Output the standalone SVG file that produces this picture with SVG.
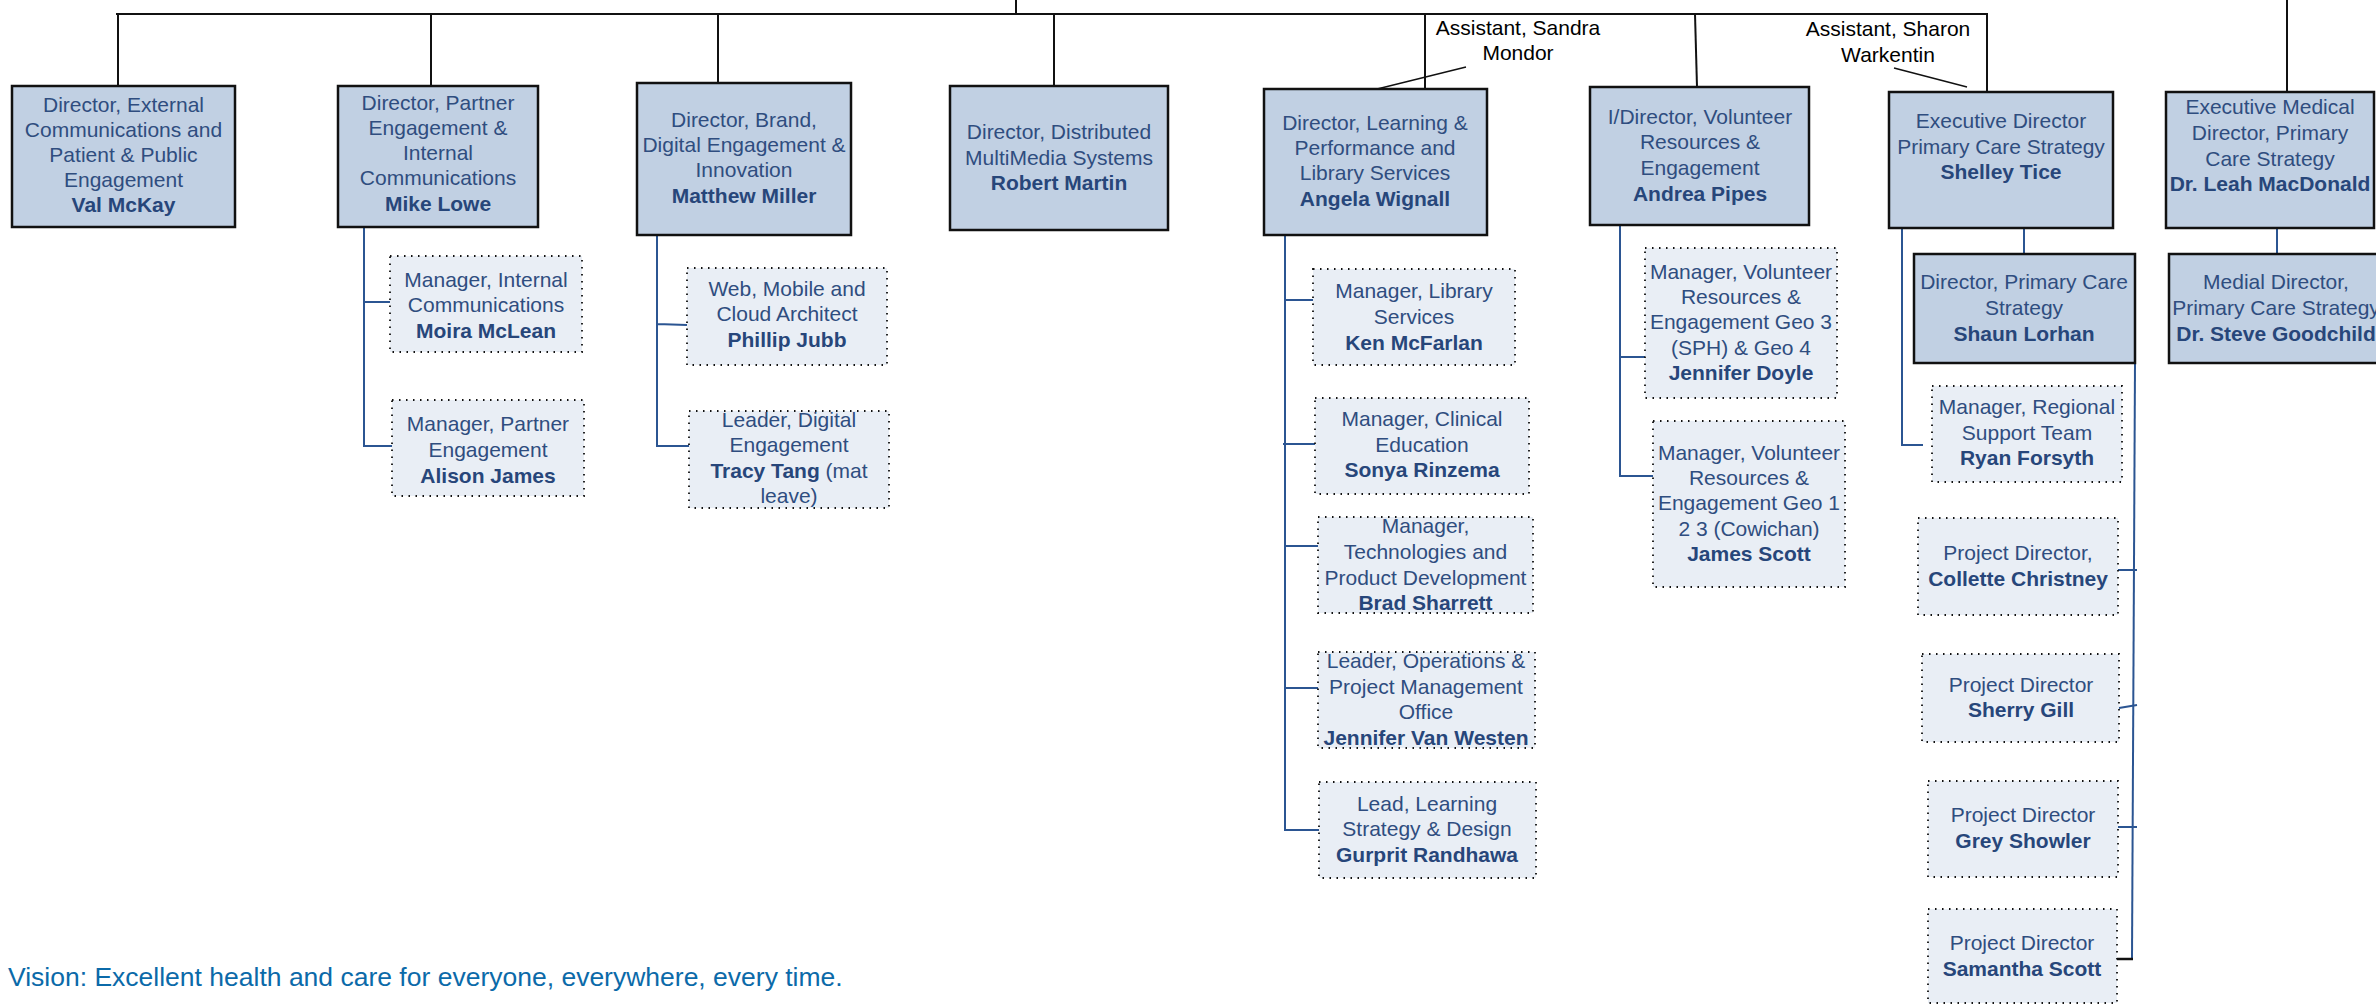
<svg xmlns="http://www.w3.org/2000/svg" width="2376" height="1005" viewBox="0 0 2376 1005">
<style>
.bg{fill:#ffffff}
.box{fill:#c1d0e3;stroke:#111;stroke-width:2.5}
.sub{fill:#e9eef5;stroke:#111;stroke-width:1.8;stroke-dasharray:1.5 5.5}
.t{font-family:"Liberation Sans",Arial,sans-serif;font-size:21px;fill:#2f4d7f;text-anchor:middle}
.b{font-weight:bold;fill:#27467a}
.a{font-family:"Liberation Sans",Arial,sans-serif;font-size:21px;fill:#000;text-anchor:middle}
.k{fill:none;stroke:#111;stroke-width:2}
.kt{fill:none;stroke:#111;stroke-width:1.4}
.c{fill:none;stroke:#2b5592;stroke-width:2}
.v{font-family:"Liberation Sans",Arial,sans-serif;font-size:26.5px;fill:#0b6aa9}
</style>
<rect class="bg" x="0" y="0" width="2376" height="1005"/>
<g id="connectors">
<path class="k" d="M116,14 H1987 V92"/>
<path class="k" d="M1016,0 V14"/>
<path class="k" d="M118,14 V86"/>
<path class="k" d="M431,14 V86"/>
<path class="k" d="M718,14 V83"/>
<path class="k" d="M1054,14 V86"/>
<path class="k" d="M1425,14 V89"/>
<path class="k" d="M1695,14 L1697,87"/>
<path class="k" d="M2287,0 V92"/>
<path class="kt" d="M1365,92 L1466,67"/>
<path class="kt" d="M1894,68 L1967,87"/>
<path class="c" d="M364,227 V446 H392 M364,302 H390"/>
<path class="c" d="M657,235 V446 H689 M657,324 L687,325"/>
<path class="c" d="M1285,235 V830 H1319 M1285,300 H1313 M1283,444 H1315 M1285,546 H1318 M1285,688 H1318"/>
<path class="c" d="M1620,225 V476 H1653 M1620,357 H1645"/>
<path class="c" d="M2024,228 V254"/>
<path class="c" d="M1902,228 V445 H1923"/>
<path class="c" d="M2135,363 L2132,959"/>
<path class="c" d="M2118,570 H2137 M2119,708 L2137,705 M2118,827 H2137"/>
<path class="k" d="M2113,959 H2133" style="stroke-width:2.5"/>
<path class="c" d="M2277,228 V254"/>
</g>
<g id="n-val"><rect class="box" x="12" y="86" width="223" height="141"/>
<text class="t"><tspan x="123.5" y="112">Director, External</tspan><tspan x="123.5" y="137">Communications and</tspan><tspan x="123.5" y="162">Patient &amp; Public</tspan><tspan x="123.5" y="187">Engagement</tspan><tspan class="b" x="123.5" y="212">Val McKay</tspan></text></g>
<g id="n-mike"><rect class="box" x="338" y="86" width="200" height="141"/>
<text class="t"><tspan x="438" y="110">Director, Partner</tspan><tspan x="438" y="135">Engagement &amp;</tspan><tspan x="438" y="160">Internal</tspan><tspan x="438" y="185">Communications</tspan><tspan class="b" x="438" y="211">Mike Lowe</tspan></text></g>
<g id="n-matthew"><rect class="box" x="637" y="83" width="214" height="152"/>
<text class="t"><tspan x="744" y="127">Director, Brand,</tspan><tspan x="744" y="152">Digital Engagement &amp;</tspan><tspan x="744" y="177">Innovation</tspan><tspan class="b" x="744" y="203">Matthew Miller</tspan></text></g>
<g id="n-robert"><rect class="box" x="950" y="86" width="218" height="144"/>
<text class="t"><tspan x="1059" y="139">Director, Distributed</tspan><tspan x="1059" y="165">MultiMedia Systems</tspan><tspan class="b" x="1059" y="190">Robert Martin</tspan></text></g>
<g id="n-angela"><rect class="box" x="1264" y="89" width="223" height="146"/>
<text class="t"><tspan x="1375" y="130">Director, Learning &amp;</tspan><tspan x="1375" y="155">Performance and</tspan><tspan x="1375" y="180">Library Services</tspan><tspan class="b" x="1375" y="206">Angela Wignall</tspan></text></g>
<g id="n-andrea"><rect class="box" x="1590" y="87" width="219" height="138"/>
<text class="t"><tspan x="1700" y="124">I/Director, Volunteer</tspan><tspan x="1700" y="149">Resources &amp;</tspan><tspan x="1700" y="175">Engagement</tspan><tspan class="b" x="1700" y="201">Andrea Pipes</tspan></text></g>
<g id="n-shelley"><rect class="box" x="1889" y="92" width="224" height="136"/>
<text class="t"><tspan x="2001" y="128">Executive Director</tspan><tspan x="2001" y="154">Primary Care Strategy</tspan><tspan class="b" x="2001" y="179">Shelley Tice</tspan></text></g>
<g id="n-leah"><rect class="box" x="2166" y="92" width="208" height="136"/>
<text class="t"><tspan x="2270" y="114">Executive Medical</tspan><tspan x="2270" y="140">Director, Primary</tspan><tspan x="2270" y="166">Care Strategy</tspan><tspan class="b" x="2270" y="191">Dr. Leah MacDonald</tspan></text></g>
<g id="n-shaun"><rect class="box" x="1914" y="254" width="221" height="109"/>
<text class="t"><tspan x="2024" y="289">Director, Primary Care</tspan><tspan x="2024" y="315">Strategy</tspan><tspan class="b" x="2024" y="341">Shaun Lorhan</tspan></text></g>
<g id="n-steve"><rect class="box" x="2169" y="254" width="214" height="109"/>
<text class="t"><tspan x="2276" y="289">Medial Director,</tspan><tspan x="2276" y="315">Primary Care Strategy</tspan><tspan class="b" x="2276" y="341">Dr. Steve Goodchild</tspan></text></g>
<g id="n-moira"><rect class="sub" x="390" y="256" width="192" height="96"/>
<text class="t"><tspan x="486" y="287">Manager, Internal</tspan><tspan x="486" y="312">Communications</tspan><tspan class="b" x="486" y="338">Moira McLean</tspan></text></g>
<g id="n-alison"><rect class="sub" x="392" y="400" width="192" height="96"/>
<text class="t"><tspan x="488" y="431">Manager, Partner</tspan><tspan x="488" y="457">Engagement</tspan><tspan class="b" x="488" y="483">Alison James</tspan></text></g>
<g id="n-phillip"><rect class="sub" x="687" y="268" width="200" height="97"/>
<text class="t"><tspan x="787" y="296">Web, Mobile and</tspan><tspan x="787" y="321">Cloud Architect</tspan><tspan class="b" x="787" y="347">Phillip Jubb</tspan></text></g>
<g id="n-tracy"><rect class="sub" x="689" y="411" width="200" height="97"/>
<text class="t"><tspan x="789" y="427">Leader, Digital</tspan><tspan x="789" y="452">Engagement</tspan><tspan x="789" y="478"><tspan class="b">Tracy Tang</tspan> (mat</tspan><tspan x="789" y="503">leave)</tspan></text></g>
<g id="n-ken"><rect class="sub" x="1313" y="269" width="202" height="96"/>
<text class="t"><tspan x="1414" y="298">Manager, Library</tspan><tspan x="1414" y="324">Services</tspan><tspan class="b" x="1414" y="350">Ken McFarlan</tspan></text></g>
<g id="n-sonya"><rect class="sub" x="1315" y="398" width="214" height="96"/>
<text class="t"><tspan x="1422" y="426">Manager, Clinical</tspan><tspan x="1422" y="452">Education</tspan><tspan class="b" x="1422" y="477">Sonya Rinzema</tspan></text></g>
<g id="n-brad"><rect class="sub" x="1318" y="517" width="215" height="96"/>
<text class="t"><tspan x="1425.5" y="533">Manager,</tspan><tspan x="1425.5" y="559">Technologies and</tspan><tspan x="1425.5" y="585">Product Development</tspan><tspan class="b" x="1425.5" y="610">Brad Sharrett</tspan></text></g>
<g id="n-jvw"><rect class="sub" x="1318" y="652" width="217" height="96"/>
<text class="t"><tspan x="1426" y="668">Leader, Operations &amp;</tspan><tspan x="1426" y="694">Project Management</tspan><tspan x="1426" y="719">Office</tspan><tspan class="b" x="1426" y="745">Jennifer Van Westen</tspan></text></g>
<g id="n-gurprit"><rect class="sub" x="1319" y="782" width="217" height="96"/>
<text class="t"><tspan x="1427" y="811">Lead, Learning</tspan><tspan x="1427" y="836">Strategy &amp; Design</tspan><tspan class="b" x="1427" y="862">Gurprit Randhawa</tspan></text></g>
<g id="n-jdoyle"><rect class="sub" x="1645" y="248" width="192" height="150"/>
<text class="t"><tspan x="1741" y="279">Manager, Volunteer</tspan><tspan x="1741" y="304">Resources &amp;</tspan><tspan x="1741" y="329">Engagement Geo 3</tspan><tspan x="1741" y="355">(SPH) &amp; Geo 4</tspan><tspan class="b" x="1741" y="380">Jennifer Doyle</tspan></text></g>
<g id="n-jscott"><rect class="sub" x="1653" y="421" width="192" height="166"/>
<text class="t"><tspan x="1749" y="460">Manager, Volunteer</tspan><tspan x="1749" y="485">Resources &amp;</tspan><tspan x="1749" y="510">Engagement Geo 1</tspan><tspan x="1749" y="536">2 3 (Cowichan)</tspan><tspan class="b" x="1749" y="561">James Scott</tspan></text></g>
<g id="n-ryan"><rect class="sub" x="1932" y="386" width="190" height="96"/>
<text class="t"><tspan x="2027" y="414">Manager, Regional</tspan><tspan x="2027" y="440">Support Team</tspan><tspan class="b" x="2027" y="465">Ryan Forsyth</tspan></text></g>
<g id="n-collette"><rect class="sub" x="1918" y="518" width="200" height="97"/>
<text class="t"><tspan x="2018" y="560">Project Director,</tspan><tspan class="b" x="2018" y="586">Collette Christney</tspan></text></g>
<g id="n-sherry"><rect class="sub" x="1922" y="654" width="197" height="88"/>
<text class="t"><tspan x="2021" y="692">Project Director</tspan><tspan class="b" x="2021" y="717">Sherry Gill</tspan></text></g>
<g id="n-grey"><rect class="sub" x="1928" y="781" width="190" height="96"/>
<text class="t"><tspan x="2023" y="822">Project Director</tspan><tspan class="b" x="2023" y="848">Grey Showler</tspan></text></g>
<g id="n-samantha"><rect class="sub" x="1928" y="909" width="189" height="94"/>
<text class="t"><tspan x="2022" y="950">Project Director</tspan><tspan class="b" x="2022" y="976">Samantha Scott</tspan></text></g>
<g id="assistants">
<text class="a"><tspan x="1518" y="35">Assistant, Sandra</tspan><tspan x="1518" y="60">Mondor</tspan></text>
<text class="a"><tspan x="1888" y="36">Assistant, Sharon</tspan><tspan x="1888" y="62">Warkentin</tspan></text>
</g>
<text class="v" x="8" y="986">Vision: Excellent health and care for everyone, everywhere, every time.</text>
</svg>
